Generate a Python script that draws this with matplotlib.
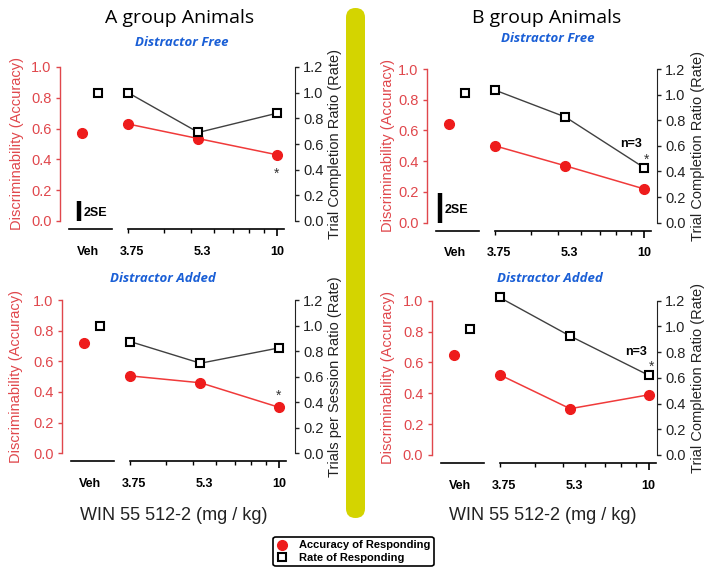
import numpy as np
import matplotlib
matplotlib.use('Agg')
import matplotlib.pyplot as plt
from matplotlib.patches import FancyBboxPatch
from matplotlib.lines import Line2D

plt.rcParams['font.family'] = ['Liberation Sans', 'DejaVu Sans']

W, H = 714, 577

# ---------------- data ----------------
dose_labels = ['3.75', '5.3', '10']
veh_label = 'Veh'

a_free_acc_veh = 0.57
a_free_acc = [0.63, 0.535, 0.43]
a_free_rate_veh = 1.00
a_free_rate = [1.00, 0.69, 0.84]

b_free_acc_veh = 0.64
b_free_acc = [0.50, 0.37, 0.22]
b_free_rate_veh = 1.01
b_free_rate = [1.035, 0.825, 0.43]

a_added_acc_veh = 0.72
a_added_acc = [0.505, 0.46, 0.30]
a_added_rate_veh = 0.995
a_added_rate = [0.875, 0.705, 0.825]

b_added_acc_veh = 0.645
b_added_acc = [0.52, 0.30, 0.39]
b_added_rate_veh = 0.98
b_added_rate = [1.225, 0.925, 0.62]

se_bar_a = 0.13
se_bar_b = 0.19

acc_ticks = [0.0, 0.2, 0.4, 0.6, 0.8, 1.0]
rate_ticks = [0.0, 0.2, 0.4, 0.6, 0.8, 1.0, 1.2]

# ---------------- styling / layout (pixel offsets from left spine) ----------------
RED = '#ee1c1c'
RED_AX = '#e0474c'
BLUE = '#1a5fd6'
GRAY_LINE = '#404040'

X_VEH_CIRCLE = 22
X_VEH_SQUARE = 38
X_VEH_LABEL = 28
VEH_LINE = (9, 52)
DOSE_X0, DOSE_SPAN = 68, 149          # dose axis: from first tick to the "10" tick
AXIS_END = 224
# dose axis is log-spaced from 3 to 10; points/labels sit at these fractions
_log = lambda v: (np.log10(v) - np.log10(3)) / (1 - np.log10(3))
X_DOSE = [DOSE_X0 + DOSE_SPAN * f for f in [0.0, _log(5.3), 1.0]]
X_MINOR = [DOSE_X0 + DOSE_SPAN * _log(k) for k in range(3, 10)]
LABEL_SHIFT = [4, 4, 0]
Y_AXIS = -0.052
YMIN, YMAX = -0.09, 1.06


def px(x, y):
    return x / W, 1 - y / H


fig = plt.figure(figsize=(W / 100, H / 100), dpi=100)

# background decoration: yellow divider
bg = fig.add_axes([0, 0, 1, 1], zorder=-5)
bg.set_xlim(0, W)
bg.set_ylim(H, 0)
bg.axis('off')
bg.add_patch(FancyBboxPatch((346, 8), 19, 510,
                            boxstyle='round,pad=0,rounding_size=9.5',
                            fc='#d4d400', ec='none'))


def panel(L, R, T, B0, acc_veh, acc, rate_veh, rate, right_label, left_lab_x, right_lab_x):
    scale = B0 - T
    bot_px = B0 - YMIN * scale
    top_px = T - (YMAX - 1.0) * scale
    ax = fig.add_axes([L / W, 1 - bot_px / H, (R - L) / W, (bot_px - top_px) / H])
    ax.set_xlim(0, R - L)
    ax.set_ylim(YMIN, YMAX)
    ax.patch.set_visible(False)
    for s in ['top', 'right']:
        ax.spines[s].set_visible(False)
    ax.spines['left'].set_bounds(0, 1)
    ax.spines['left'].set_color(RED_AX)
    ax.spines['left'].set_linewidth(1.0)
    ax.set_yticks(acc_ticks)
    ax.set_yticklabels([f'{v:.1f}' for v in acc_ticks])
    ax.tick_params(axis='y', colors=RED_AX, labelcolor=RED_AX, labelsize=10.5,
                   length=3, width=1, pad=3)
    # bottom (dose) axis
    ax.spines['bottom'].set_position(('data', Y_AXIS))
    ax.spines['bottom'].set_bounds(DOSE_X0, AXIS_END)
    ax.spines['bottom'].set_linewidth(1.2)
    ax.set_xticks([X_VEH_LABEL] + [x + s for x, s in zip(X_DOSE, LABEL_SHIFT)])
    ax.set_xticklabels([veh_label] + dose_labels, fontweight='bold', fontsize=9)
    ax.set_xticks(X_MINOR, minor=True)
    ax.tick_params(axis='x', which='major', length=5, width=1.2, pad=7)
    ax.tick_params(axis='x', which='minor', length=3, width=1)
    ticks = ax.xaxis.get_major_ticks()
    for t in ticks[:-1]:
        t.tick1line.set_visible(False)
    ax.plot(VEH_LINE, [Y_AXIS, Y_AXIS], color='black', lw=1.2, clip_on=False)

    # accuracy
    ax.plot([X_VEH_CIRCLE], [acc_veh], 'o', color=RED, ms=7, mec=RED, clip_on=False)
    ax.plot(X_DOSE, acc, '-', color='#f03a3a', lw=1.1, clip_on=False)
    ax.plot(X_DOSE, acc, 'o', color=RED, ms=7, mec=RED, clip_on=False)

    # rate
    ax2 = ax.twinx()
    ax2.set_ylim(YMIN * 1.2, YMAX * 1.2)
    for s in ['top', 'left', 'bottom']:
        ax2.spines[s].set_visible(False)
    ax2.spines['right'].set_bounds(0, 1.2)
    ax2.spines['right'].set_color('#222222')
    ax2.set_yticks(rate_ticks)
    ax2.set_yticklabels([f'{v:.1f}' for v in rate_ticks])
    ax2.tick_params(axis='y', colors='#222222', labelsize=10.5, length=3, width=1, pad=3)
    ax2.plot(X_DOSE, rate, '-', color=GRAY_LINE, lw=1.0, clip_on=False)
    ax2.plot([X_VEH_SQUARE], [rate_veh], 's', mfc='white', mec='black', mew=1.5, ms=5.8, clip_on=False)
    ax2.plot(X_DOSE, rate, 's', mfc='white', mec='black', mew=1.5, ms=5.8, clip_on=False)

    yc = (T + B0) / 2
    fig.text(*px(left_lab_x, yc), 'Discriminability (Accuracy)', rotation=90,
             ha='center', va='center', color=RED_AX, fontsize=10.5)
    fig.text(*px(right_lab_x, yc), right_label, rotation=90,
             ha='center', va='center', color='#222222', fontsize=10.5)
    return ax, ax2


# panels
ax_tl, ax2_tl = panel(60, 295, 67, 221, a_free_acc_veh, a_free_acc, a_free_rate_veh, a_free_rate,
                      'Trial Completion Ratio (Rate)', 17, 335)
ax_tr, ax2_tr = panel(427, 657, 69, 222.7, b_free_acc_veh, b_free_acc, b_free_rate_veh, b_free_rate,
                      'Trial Completion Ratio (Rate)', 388, 698)
ax_bl, ax2_bl = panel(62, 295, 300, 453.3, a_added_acc_veh, a_added_acc, a_added_rate_veh, a_added_rate,
                      'Trials per Session Ratio (Rate)', 16, 335)
ax_br, ax2_br = panel(431.7, 656.7, 300.7, 455, b_added_acc_veh, b_added_acc, b_added_rate_veh, b_added_rate,
                      'Trial Completion Ratio (Rate)', 388, 698)

# 2SE bars
for a, val, xb in [(ax_tl, se_bar_a, 19), (ax_tr, se_bar_b, 13)]:
    a.plot([xb, xb], [0, val], color='black', lw=3.2, solid_capstyle='butt')
    a.text(xb + 5, val * 0.42, '2SE', fontweight='bold', fontsize=9, ha='left', va='center')

# significance marks
ax_tl.annotate('*', xy=(X_DOSE[2], a_free_acc[2]), xytext=(0, -14), textcoords='offset points',
               ha='center', va='center', fontsize=10, color='#333333')
ax_bl.annotate('*', xy=(X_DOSE[2], a_added_acc[2]), xytext=(0, 8), textcoords='offset points',
               ha='center', va='center', fontsize=10, color='#333333')
for a2, r in [(ax2_tr, b_free_rate), (ax2_br, b_added_rate)]:
    a2.annotate('n=3', xy=(X_DOSE[2], r[2]), xytext=(-9, 17), textcoords='offset points',
                ha='center', va='center', fontsize=9, fontweight='bold')
    a2.annotate('*', xy=(X_DOSE[2], r[2]), xytext=(2, 6), textcoords='offset points',
                ha='center', va='center', fontsize=10, color='#333333')

# titles
fig.text(*px(180, 18), 'A group Animals', ha='center', va='center', fontsize=14, family='Open Sans')
fig.text(*px(547, 18), 'B group Animals', ha='center', va='center', fontsize=14, family='Open Sans')
for (x, y, t) in [(182, 43, 'Distractor Free'), (548, 39, 'Distractor Free'),
                  (163, 279, 'Distractor Added'), (550, 279, 'Distractor Added')]:
    fig.text(*px(x, y), t, ha='center', va='center', fontsize=9.5, family='Open Sans',
             fontweight='bold', fontstyle='italic', color=BLUE)

# x labels
fig.text(*px(174, 515), 'WIN 55 512-2 (mg / kg)', ha='center', va='center', fontsize=13, color='#222222')
fig.text(*px(543, 516), 'WIN 55 512-2 (mg / kg)', ha='center', va='center', fontsize=13, color='#222222')

# legend
handles = [Line2D([], [], marker='o', ls='', color=RED, ms=7),
           Line2D([], [], marker='s', ls='', mfc='white', mec='black', mew=1.5, ms=6)]
leg = fig.legend(handles, ['Accuracy of Responding', 'Rate of Responding'], loc='center',
                 bbox_to_anchor=px(353.5, 551.5), prop=dict(weight='bold', size=8),
                 frameon=True, fancybox=True, edgecolor='black', framealpha=1,
                 borderpad=0.3, labelspacing=0.2, handlelength=1.0, handletextpad=1.0,
                 borderaxespad=0)
leg.get_frame().set_linewidth(1.2)

fig.savefig('out.png', dpi=100)
